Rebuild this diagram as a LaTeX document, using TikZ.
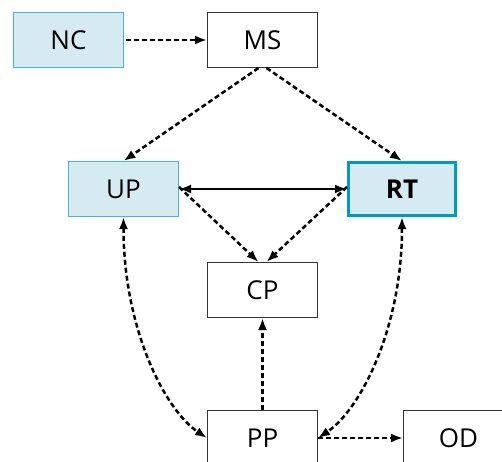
\documentclass[tikz,border=0pt]{standalone}
\usepackage{fontspec}
\setmainfont{Open Sans}
\usetikzlibrary{arrows.meta}
\definecolor{boxfill}{RGB}{214,234,241}
\definecolor{lightedge}{RGB}{70,180,215}
\definecolor{darkedge}{RGB}{0,155,195}
\begin{document}
\begin{tikzpicture}[x=1pt,y=-1pt,
  >={Latex[length=12pt,width=9pt]},
  box/.style={draw=black!80, line width=1pt, minimum width=110pt, minimum height=55pt, inner sep=0pt, font=\fontsize{26}{30}\selectfont},
  hl/.style={box, fill=boxfill, draw=lightedge},
  keybox/.style={box, fill=boxfill, draw=darkedge, line width=3pt, minimum width=107pt, minimum height=53pt, font=\fontsize{26}{30}\selectfont\bfseries},
  dep/.style={line width=2.5pt, dash pattern=on 5pt off 3pt, ->},
  depb/.style={line width=2.5pt, dash pattern=on 5pt off 3pt, <->},
  link/.style={line width=2.3pt, <->}]
\useasboundingbox (0,0) rectangle (502,461);
\node[hl] (NC) at (68.5,40) {NC};
\node[box] (MS) at (262.5,40) {MS};
\node[hl] (UP) at (123.5,189) {UP};
\node[keybox] (RT) at (402,189) {RT};
\node[box] (CP) at (262.5,290) {CP};
\node[box] (PP) at (262.5,438) {PP};
\node[box] (OD) at (458.5,438) {OD};
\draw[dep] ([xshift=2pt]NC.east) -- (MS.west);
\draw[dep] ([xshift=-4pt]MS.south) -- (UP.north);
\draw[dep] ([xshift=4pt]MS.south) -- (RT.north);
\draw[link] (UP.east) -- (RT.west);
\draw[dep] ([yshift=2pt]UP.east) -- ([xshift=-4pt]CP.north);
\draw[dep] ([yshift=2pt]RT.west) -- ([xshift=4pt]CP.north);
\draw[dep] (PP.north) -- (CP.south);
\draw[depb] (UP.south) .. controls +(0,112) and +(-42,-28) .. (PP.west);
\draw[depb] (RT.south) .. controls +(0,112) and +(42,-28) .. (PP.east);
\draw[dep] (PP.east) -- (OD.west);
\end{tikzpicture}
\end{document}
